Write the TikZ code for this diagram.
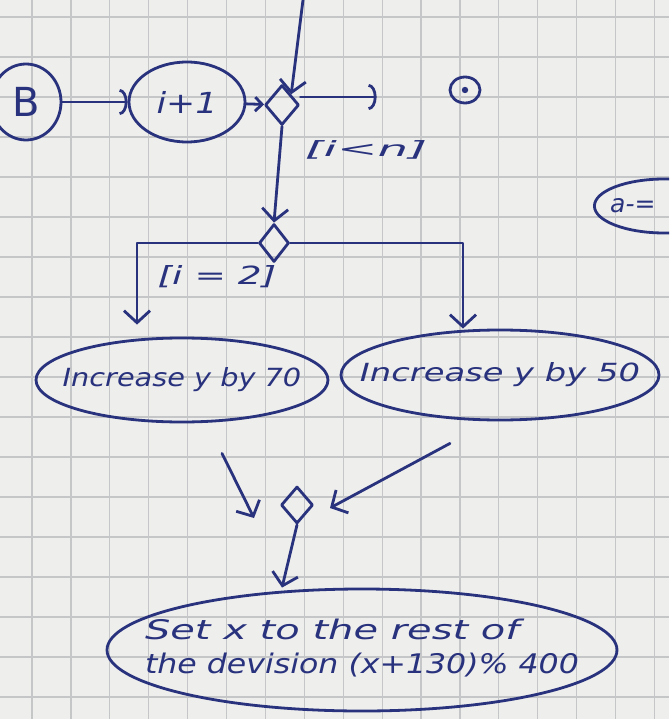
\documentclass[tikz,border=0pt]{standalone}
\usepackage{fontspec}
\setmainfont{DejaVu Sans}
\usetikzlibrary{arrows.meta,shapes.geometric}
\definecolor{ink}{RGB}{40,50,125}
\definecolor{paper}{RGB}{238,238,236}
\definecolor{gridc}{RGB}{196,198,200}
\begin{document}
\begin{tikzpicture}[x=1pt,y=-1pt,
  inkline/.style={draw=ink, line width=2.8pt, line cap=round, line join=round},
  act/.style={ellipse, inkline, text=ink, inner sep=0pt, font=\fontsize{25}{30}\selectfont\itshape},
  dec/.style={diamond, inkline, inner sep=0pt, minimum width=34pt, minimum height=40pt},
  arr/.style={inkline, -{Straight Barb[length=12pt,width=26pt,line width=2.8pt]}},
  arcarr/.style={inkline, -{Arc Barb[length=8pt,width=26pt,line width=2.8pt]}},
  lbl/.style={text=ink, inner sep=0pt, font=\fontsize{25}{30}\selectfont\itshape}
]
\useasboundingbox (0,0) rectangle (669,719);
\fill[paper] (0,0) rectangle (669,719);
\foreach \k in {0,...,16} \draw[gridc, line width=1.2pt] ({32+38.9*\k},0) -- ({32+38.9*\k},719);
\foreach \k in {0,...,17} \draw[gridc, line width=1.2pt] (0,{17+40*\k}) -- (669,{17+40*\k});

% top row
\node[act, minimum width=70pt, minimum height=76pt, font=\fontsize{40}{44}\selectfont] (B) at (26,102) {B};
\node[act, minimum width=116pt, minimum height=80pt, font=\fontsize{29}{34}\selectfont\itshape] (inc) at (187,102) {\scalebox{1.2}[1]{i+1}};
\node[dec] (d1) at (282,105) {};
\node[ellipse, inkline, minimum width=30pt, minimum height=26pt, inner sep=0pt] (fin) at (465,90) {};
\fill[ink] (fin.center) circle (3.2pt);
\coordinate (top) at (303,0);

\draw[arr] (top) -- (d1.north east);
\draw[arcarr] (B) -- (inc);
\draw[inkline, -{Straight Barb[length=7pt,width=14pt,line width=2.8pt]}] (inc) -- (d1);
\draw[arcarr, shorten >=72pt] ([yshift=8pt]d1.east) -- ([yshift=8pt]d1.east -| fin.west);

% first branch
\node[dec, minimum width=30pt, minimum height=38pt] (d2) at (274,243) {};
\draw[arr] (d1.south) -- (d2.north);
\node[lbl, font=\fontsize{21}{26}\selectfont\itshape] (l1) at (366,150) {\scalebox{2.3}[1]{[i<n]}};

% actions
\node[act, minimum width=292pt, minimum height=84pt] (a70) at (182,380) {\makebox[0pt]{\scalebox{1.15}[1]{Increase y by 70}}};
\node[act, minimum width=318pt, minimum height=90pt] (a50) at (500,375) {\makebox[0pt]{\scalebox{1.35}[1]{Increase y by 50}}};
\draw[arr] (d2.west) -| ([xshift=-45pt, yshift=12pt]a70.north);
\draw[arr] (d2.east) -| ([xshift=-37pt]a50.north);
\node[lbl] (l2) at (217,277) {\scalebox{1.5}[1]{[i = 2]}};

% merge
\node[dec, minimum width=32pt, minimum height=37pt] (d3) at (297,505) {};
\coordinate (m1) at (254,518);
\coordinate (m2) at (330,508);
\draw[arr] ([shift={(40,30)}]a70.south) -- (m1);
\draw[arr] ([shift={(-50,22)}]a50.south) -- (m2);

% final action
\node[act, minimum width=510pt, minimum height=122pt, font=\fontsize{27}{34}\selectfont\itshape] (set) at (362,650) {\makebox[0pt]{\begin{tabular}{@{}l@{}}\scalebox{1.48}[1]{Set x to the rest of}\\\scalebox{1.17}[1]{the devision (x+130)\% 400}\end{tabular}}};
\draw[arr] (d3.south) -- ([xshift=-80pt]set.north);

% partial node at right edge
\begin{scope}
\clip (0,0) rectangle (669,719);
\node[act, anchor=west, minimum width=140pt, minimum height=54pt] (aop) at (593,206) {};
\node[lbl, anchor=west] (aoptext) at (610,206) {a-=};
\end{scope}
\end{tikzpicture}
\end{document}
